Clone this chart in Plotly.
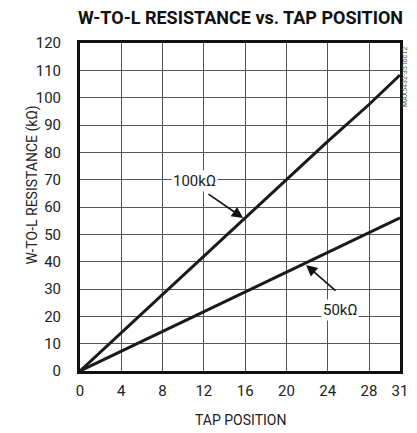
import plotly.graph_objects as go

taps = [0, 4, 8, 12, 16, 20, 24, 28, 31]
r100k = [0, 14, 28, 42, 56, 70, 84, 97.5, 108.3]
r50k = [0, 7.2, 14.5, 21.7, 29, 36.2, 43.4, 50.6, 56]
x_ticks = [0, 4, 8, 12, 16, 20, 24, 28, 31]
y_ticks = list(range(0, 121, 10))

FONT = "Roboto, Liberation Sans, sans-serif"

fig = go.Figure()
fig.add_trace(go.Scatter(x=taps, y=r100k, mode="lines",
                         line=dict(color="#1a1a1a", width=3), showlegend=False))
fig.add_trace(go.Scatter(x=taps, y=r50k, mode="lines",
                         line=dict(color="#1a1a1a", width=3), showlegend=False))

# labels
fig.add_annotation(x=11.1, y=69.5, text="100kΩ", showarrow=False,
                   bgcolor="white", font=dict(family=FONT, size=15, color="#222"))
fig.add_annotation(x=15.8, y=56, ax=12.3, ay=65.1, axref="x", ayref="y",
                   text="", showarrow=True, arrowhead=2, arrowsize=1.4,
                   arrowwidth=1.6, arrowcolor="#111")
fig.add_annotation(x=25.2, y=22.5, text="50kΩ", showarrow=False,
                   bgcolor="white", font=dict(family=FONT, size=15, color="#222"))
fig.add_annotation(x=21.9, y=38.8, ax=24.9, ay=28.9, axref="x", ayref="y",
                   text="", showarrow=True, arrowhead=2, arrowsize=1.4,
                   arrowwidth=1.6, arrowcolor="#111")

# titles
fig.add_annotation(xref="paper", yref="paper", x=0.5, y=1, yshift=26, xanchor="center",
                   yanchor="middle", text="<b>W-TO-L RESISTANCE vs. TAP POSITION</b>",
                   showarrow=False, font=dict(family=FONT, size=18, color="#111"))
fig.add_annotation(xref="paper", yref="paper", x=0, xshift=-58, y=0.567, textangle=-90,
                   text="W-TO-L RESISTANCE (kΩ)", showarrow=False,
                   font=dict(family=FONT, size=14, color="#222"))
fig.add_annotation(xref="paper", yref="paper", x=0.5, y=0, yshift=-49, yanchor="middle",
                   text="TAP POSITION", showarrow=False,
                   font=dict(family=FONT, size=14, color="#222"))
fig.add_annotation(xref="paper", yref="paper", x=1, xshift=5, y=1, yshift=-2,
                   xanchor="center", yanchor="top", textangle=-90,
                   text="MAX5432-35 toc12", showarrow=False,
                   font=dict(family=FONT, size=7, color="#555"))

fig.update_xaxes(range=[0, 31], tickvals=x_ticks, ticktext=[str(v) for v in x_ticks],
                 showgrid=True, gridcolor="#555", gridwidth=1, zeroline=False,
                 showline=True, linecolor="#111", linewidth=3, mirror=True,
                 ticks="", automargin=False, ticklabelstandoff=4,
                 tickfont=dict(family=FONT, size=15, color="#222"))
fig.update_yaxes(range=[0, 120], tickvals=y_ticks,
                 showgrid=True, gridcolor="#555", gridwidth=1, zeroline=False,
                 showline=True, linecolor="#111", linewidth=3, mirror=True,
                 ticks="", automargin=False, ticklabelstandoff=13,
                 tickfont=dict(family=FONT, size=15, color="#222"))

# the page body adds an 8px margin; the figure is sized to stay inside the visible area
fig.update_layout(width=401, height=425, margin=dict(l=72, r=9, t=35, b=62),
                  plot_bgcolor="white", paper_bgcolor="white", showlegend=False)

fig.write_html("out.html")
